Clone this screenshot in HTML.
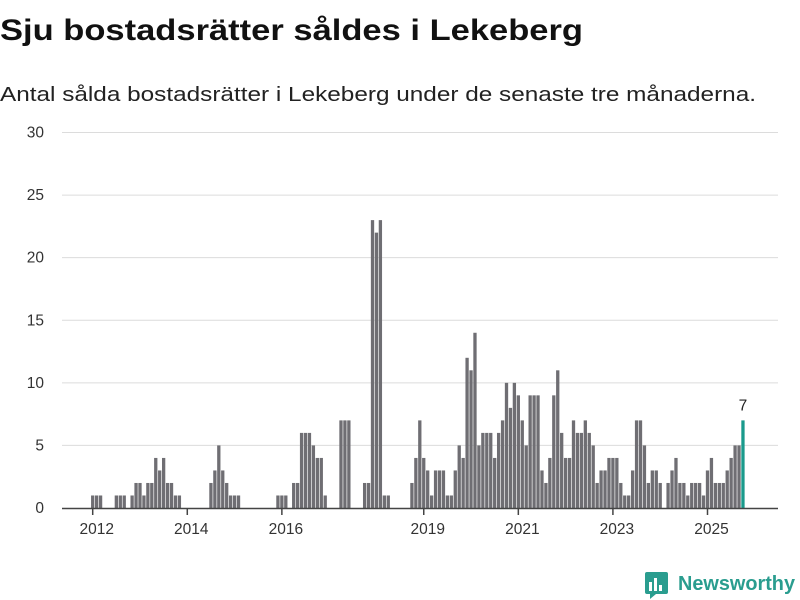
<!DOCTYPE html>
<html><head><meta charset="utf-8"><style>
html,body{margin:0;padding:0;background:#fff;}
svg{display:block;font-family:"Liberation Sans",sans-serif;}
</style></head><body>
<svg id="chart" width="800" height="600" viewBox="0 0 800 600">
<text x="0" y="40" font-size="30" font-weight="bold" fill="#111" textLength="583" lengthAdjust="spacingAndGlyphs">Sju bostadsrätter såldes i Lekeberg</text>
<text x="0" y="101" font-size="20" fill="#222" textLength="756" lengthAdjust="spacingAndGlyphs">Antal sålda bostadsrätter i Lekeberg under de senaste tre månaderna.</text>
<g id="grid"></g>
<g id="ylabels"></g>
<g id="bars"></g>
<g id="xaxis"></g>
<g>
<rect x="645" y="572" width="23" height="22" rx="2" fill="#2a9d8f"/>
<rect x="649" y="582" width="3" height="9" fill="#fff"/>
<rect x="654" y="578" width="3" height="13" fill="#fff"/>
<rect x="659" y="585" width="3" height="6" fill="#fff"/>
<path d="M650 594 L650 599 L656 594 Z" fill="#2a9d8f"/>
<text x="678" y="590" font-size="20" font-weight="bold" fill="#2a9d8f" textLength="117" lengthAdjust="spacingAndGlyphs">Newsworthy</text>
</g>
</svg>
<script>
const values = [1,1,1,0,0,0,1,1,1,0,1,2,2,1,2,2,4,3,4,2,2,1,1,
0,0,0,0,0,0,0,2,3,5,3,2,1,1,1,
0,0,0,0,0,0,0,0,0,1,1,1,0,2,2,6,6,6,5,4,4,1,
0,0,0,7,7,7,0,0,0,2,2,23,22,23,1,1,
0,0,0,0,0,2,4,7,4,3,1,3,3,3,1,1,3,5,4,12,11,14,5,6,6,6,4,6,7,
10,8,10,9,7,5,9,9,9,3,2,4,9,11,6,4,4,7,6,6,7,6,5,
2,3,3,4,4,4,2,1,1,3,7,7,5,2,3,3,2,0,2,3,4,2,2,1,
2,2,2,1,3,4,2,2,2,3,4,5,5,7];
const startYear = 2012;
const yTicks = [0,5,10,15,20,25,30];
const xTickYears = [2012,2014,2016,2019,2021,2023,2025];

const NS = 'http://www.w3.org/2000/svg';
const x0 = 92.7, pitch = 3.941, bw = 3.3;
const yScale = v => 508 - v * (375.5 / 30);
const xScale = k => x0 + k * pitch;

const grid = document.getElementById('grid');
const yl = document.getElementById('ylabels');
yTicks.forEach(t => {
  if (t > 0) {
    const l = document.createElementNS(NS, 'line');
    
    
    l.setAttribute('x1', 62); l.setAttribute('x2', 778);
    l.setAttribute('y1', yScale(t)); l.setAttribute('y2', yScale(t));
    l.setAttribute('stroke', '#dcdcdc'); l.setAttribute('stroke-width', '1');
    grid.appendChild(l);
  }
  const tx = document.createElementNS(NS, 'text');
  
  
  tx.setAttribute('x', 44); tx.setAttribute('y', yScale(t) + 5);
  tx.setAttribute('text-anchor', 'end'); tx.setAttribute('font-size', '15.5');
  tx.setAttribute('fill', '#333');
  tx.textContent = t;
  yl.appendChild(tx);
});

const bars = document.getElementById('bars');
values.forEach((v, k) => {
  if (v <= 0) return;
  const r = document.createElementNS(NS, 'rect');
  
  
  const last = k === values.length - 1;
  r.setAttribute('x', xScale(k) - bw / 2);
  r.setAttribute('y', yScale(v));
  r.setAttribute('width', bw);
  r.setAttribute('height', 508 - yScale(v));
  r.setAttribute('fill', last ? '#1a9a8c' : '#6f6e73');
  bars.appendChild(r);
  if (last) {
    const t = document.createElementNS(NS, 'text');
    
    
    t.setAttribute('x', xScale(k)); t.setAttribute('y', yScale(v) - 10);
    t.setAttribute('text-anchor', 'middle'); t.setAttribute('font-size', '15.5');
    t.setAttribute('fill', '#222');
    t.textContent = v;
    bars.appendChild(t);
  }
});

const xa = document.getElementById('xaxis');
const base = document.createElementNS(NS, 'line');


base.setAttribute('x1', 62); base.setAttribute('x2', 778);
base.setAttribute('y1', 508.5); base.setAttribute('y2', 508.5);
base.setAttribute('stroke', '#444'); base.setAttribute('stroke-width', '1.5');
xa.appendChild(base);
xTickYears.forEach(yr => {
  const k = (yr - startYear) * 12;
  const tk = document.createElementNS(NS, 'line');
  
  
  tk.setAttribute('x1', xScale(k)); tk.setAttribute('x2', xScale(k));
  tk.setAttribute('y1', 508); tk.setAttribute('y2', 515);
  tk.setAttribute('stroke', '#444'); tk.setAttribute('stroke-width', '1.5');
  xa.appendChild(tk);
  const t = document.createElementNS(NS, 'text');
  
  
  t.setAttribute('x', xScale(k) + 4); t.setAttribute('y', 534);
  t.setAttribute('text-anchor', 'middle'); t.setAttribute('font-size', '15.5');
  t.setAttribute('fill', '#333');
  t.textContent = yr;
  xa.appendChild(t);
});
</script>
</body></html>
